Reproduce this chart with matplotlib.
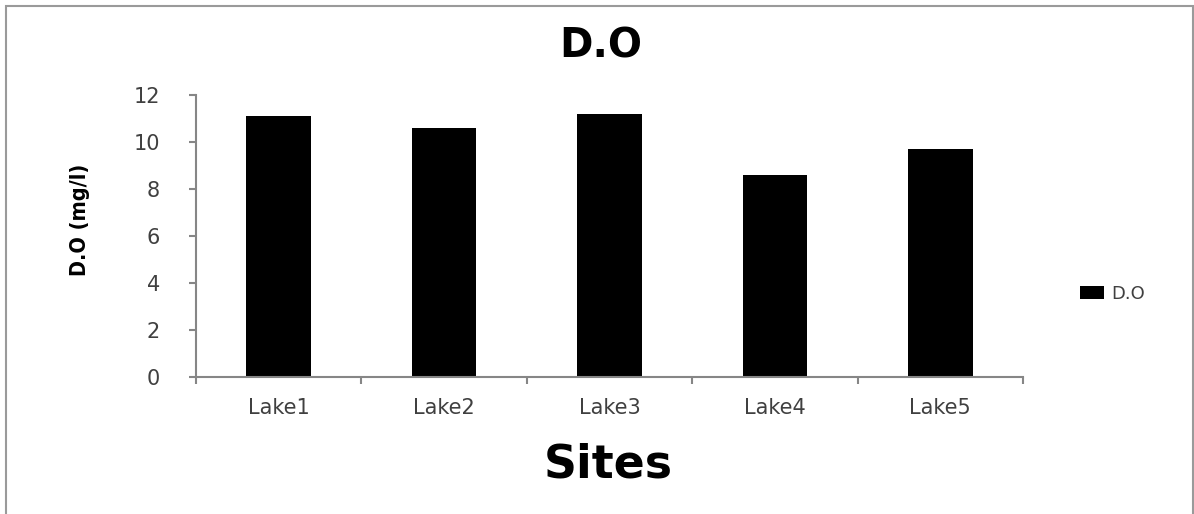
import matplotlib.pyplot as plt
import matplotlib.patches as patches

# dados
sites = ["Lake1", "Lake2", "Lake3", "Lake4", "Lake5"]
do_vals = [11.1, 10.6, 11.2, 8.6, 9.7]
y_ticks = [0, 2, 4, 6, 8, 10, 12]

cinza = "#868686"
texto = "#404040"

fig = plt.figure(figsize=(11.94, 5.14), dpi=100)
ax = fig.add_axes([196/1194, 1-377/514, (1023-196)/1194, (377-95)/514])

pos = list(range(len(sites)))
ax.bar(pos, do_vals, width=0.39, color="black", label="D.O")

ax.set_xlim(-0.5, len(sites) - 0.5)
ax.set_ylim(0, 12)
ax.set_yticks(y_ticks)
ax.set_yticklabels([str(v) for v in y_ticks], fontsize=15, color=texto)

# ticks nas divisas, rotulos no meio
ax.set_xticks([p - 0.5 for p in pos] + [len(sites) - 0.5])
ax.set_xticklabels([])
ax.set_xticks(pos, minor=True)
ax.set_xticklabels(sites, minor=True, fontsize=15, color=texto)
ax.tick_params(axis="x", which="minor", length=0, pad=15)
ax.tick_params(axis="x", which="major", length=5, width=1.5, color=cinza, direction="out")
ax.tick_params(axis="y", length=5, width=1.5, color=cinza, direction="out", pad=21)

for lado in ["top", "right"]:
    ax.spines[lado].set_visible(False)
for lado in ["left", "bottom"]:
    ax.spines[lado].set_color(cinza)
    ax.spines[lado].set_linewidth(1.5)

fig.text(601/1194, 1-47/514, "D.O", ha="center", va="center", fontsize=29, fontweight="bold")
fig.text(608/1194, 1-465/514, "Sites", ha="center", va="center", fontsize=33, fontweight="bold")
fig.text(80/1194, 1-220/514, "D.O (mg/l)", ha="center", va="center", rotation=90,
         fontsize=15.5, fontweight="bold", family="DejaVu Sans", fontstretch="condensed")

fig.legend(loc="center left", bbox_to_anchor=(1064/1194, 1-294/514), frameon=False,
           fontsize=13, handlelength=1.3, handleheight=0.7, handletextpad=0.4,
           labelcolor=texto)

borda = patches.Rectangle((6/1194, -0.02), (1193-6)/1194, 1.02-6/514, transform=fig.transFigure,
                          fill=False, edgecolor="#9a9a9a", linewidth=1.5)
fig.patches.append(borda)

fig.savefig("out.png", dpi=100)
